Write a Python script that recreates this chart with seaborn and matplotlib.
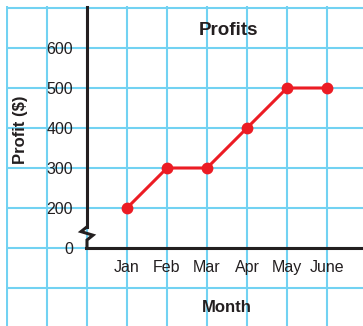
import numpy as np
import pandas as pd
import matplotlib
matplotlib.use("Agg")
import matplotlib.pyplot as plt
from matplotlib.ticker import MultipleLocator
import seaborn as sns

# Monthly profit data
months = ["Jan", "Feb", "Mar", "Apr", "May", "June"]
profits = [200, 300, 300, 400, 500, 500]

# y-axis ticks above the axis break
y_ticks = [200, 300, 400, 500, 600]
y_tick_labels = ["200", "300", "400", "500", "600"]
# the broken axis shows "0" one grid step below 200
BREAK_POS = 100
BREAK_LABEL = "0"

RED = "#ec1c24"
GRID = "#72d2f2"
INK = "#231f20"

sns.set_style("white")
plt.rcParams["font.family"] = ["Liberation Sans", "DejaVu Sans"]

df = pd.DataFrame({"month_pos": np.arange(1, len(months) + 1), "profit": profits})

fig = plt.figure(figsize=(3.63, 3.26), dpi=100)
ax = fig.add_axes([6 / 363, 0, 357 / 363, 320 / 326])
ax.set_xlim(-2.025, 6.9)
ax.set_ylim(-95, 705)

# graph-paper grid
ax.xaxis.set_minor_locator(MultipleLocator(1))
ax.yaxis.set_minor_locator(MultipleLocator(100))
ax.grid(which="both", color=GRID, lw=1.5)
ax.set_axisbelow(True)
ax.tick_params(which="minor", length=0)

sns.lineplot(data=df, x="month_pos", y="profit", color=RED, lw=2.2,
             marker="o", markersize=8.5, markeredgewidth=0, ax=ax, zorder=4)
ax.set_xlabel("")
ax.set_ylabel("")

# axes drawn through the data origin
for s in ("top", "right"):
    ax.spines[s].set_visible(False)
ax.spines["left"].set_position(("data", 0))
ax.spines["left"].set_bounds(153, 703)
ax.spines["bottom"].set_position(("data", BREAK_POS))
ax.spines["bottom"].set_bounds(-0.03, 6.9)
for s in ("left", "bottom"):
    ax.spines[s].set_linewidth(2.2)
    ax.spines[s].set_color(INK)
    ax.spines[s].set_zorder(3)

# zigzag marking the axis break
ax.plot([0, -0.15, 0.15, 0, 0], [153, 141, 132, 120, BREAK_POS], color=INK,
        lw=2.2, solid_joinstyle="miter", solid_capstyle="butt", zorder=3,
        clip_on=False)

ax.set_yticks([BREAK_POS] + y_ticks, [BREAK_LABEL] + y_tick_labels)
ax.set_xticks(df["month_pos"], months)
ax.tick_params(axis="y", which="major", direction="out", length=5, width=2,
               pad=5, labelsize=11.5, color=INK, labelcolor=INK)
ax.tick_params(axis="x", which="major", direction="out", length=4.5, width=2,
               pad=4, labelsize=11.5, color=INK, labelcolor=INK)

fig.text(228 / 363, 1 - 35 / 326, "Profits", ha="center", va="baseline",
         fontsize=13.5, fontweight="bold", color=INK)
fig.text(227 / 363, 1 - 312 / 326, "Month", ha="center", va="baseline",
         fontsize=12, fontweight="bold", color=INK)
fig.text(20 / 363, 1 - 130 / 326, "Profit ($)", ha="center", va="center",
         rotation=90, fontsize=12, fontweight="bold", color=INK)

fig.savefig("out.png", dpi=100)
